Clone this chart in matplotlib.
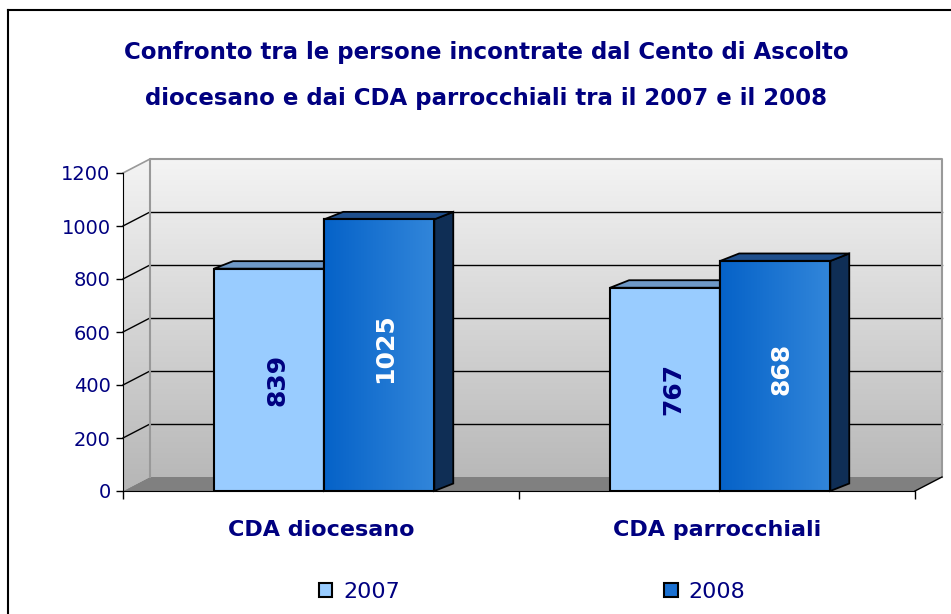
import numpy as np
import matplotlib
matplotlib.use("Agg")
import matplotlib.pyplot as plt
from matplotlib.patches import Polygon, Rectangle, Patch
from matplotlib.lines import Line2D

# data
categories = ["CDA diocesano", "CDA parrocchiali"]
series_names = ["2007", "2008"]
values_2007 = [839, 767]
values_2008 = [1025, 868]
title_lines = ["Confronto tra le persone incontrate dal Cento di Ascolto",
               "diocesano e dai CDA parrocchiali tra il 2007 e il 2008"]
yticks = [0, 200, 400, 600, 800, 1000, 1200]

navy = "#000080"
W, H = 951, 614
fig = plt.figure(figsize=(W / 100, H / 100), dpi=100)
fig.patch.set_facecolor("white")

# front plot area in pixels
left_px, right_px, bot_px, top_px = 123, 915, 491, 173
ax = fig.add_axes([left_px / W, 1 - bot_px / H, (right_px - left_px) / W, (bot_px - top_px) / H])
ax.set_xlim(0, 2)
ax.set_ylim(0, 1200)
ax.patch.set_alpha(0)

xpp = 2 / (right_px - left_px)      # x units per pixel
ypp = 1200 / (bot_px - top_px)      # y units per pixel
dx, dy = 27 * xpp, 14 * ypp         # wall depth
bdx, bdy = 19 * xpp, 7.5 * ypp      # bar depth

# walls with gradient
wall = Polygon([(0, 0), (dx, dy), (2 + dx, dy), (2 + dx, 1200 + dy), (dx, 1200 + dy), (0, 1200)],
               closed=True, facecolor="none", edgecolor="none", clip_on=False)
ax.add_patch(wall)
grad = np.linspace(0, 1, 256).reshape(-1, 1)
cmap = matplotlib.colors.LinearSegmentedColormap.from_list("wall", ["#b6b6b6", "#f4f4f4"])
im = ax.imshow(grad, extent=[0, 2 + dx, 0, 1200 + dy], origin="lower", cmap=cmap,
               aspect="auto", zorder=0)
im.set_clip_box(fig.bbox)
im.set_clip_path(wall)

# floor
ax.add_patch(Polygon([(0, 0), (2, 0), (2 + dx, dy), (dx, dy)], closed=True,
                     facecolor="#808080", edgecolor="none", clip_on=False, zorder=1))

# gridlines
for v in yticks[1:-1]:
    ax.plot([dx, 2 + dx], [v + dy, v + dy], color="black", lw=1, clip_on=False, zorder=1)
    ax.plot([0, dx], [v, v + dy], color="black", lw=1, clip_on=False, zorder=1)
# wall border
ax.plot([dx, dx, 2 + dx, 2 + dx], [dy, 1200 + dy, 1200 + dy, dy], color="#999999", lw=1.5,
        clip_on=False, zorder=1)
ax.plot([0, dx], [1200, 1200 + dy], color="#999999", lw=1.2, clip_on=False, zorder=1)
ax.plot([2, 2 + dx], [0, dy], color="black", lw=1, clip_on=False, zorder=1)

# bars
w = 0.278
shift = 0.008
centers = np.arange(len(categories)) + 0.5 + shift
grad_h = np.linspace(0, 1, 256).reshape(1, -1)
cmap_b = matplotlib.colors.LinearSegmentedColormap.from_list("bar", ["#0562c8", "#3286da"])

def draw_bar(x0, h, front, top, side, z, gradient=False):
    x1 = x0 + w
    ax.add_patch(Polygon([(x1, 0), (x1 + bdx, bdy), (x1 + bdx, h + bdy), (x1, h)], closed=True,
                         facecolor=side, edgecolor="black", lw=1.3, clip_on=False, zorder=z))
    ax.add_patch(Polygon([(x0, h), (x1, h), (x1 + bdx, h + bdy), (x0 + bdx, h + bdy)], closed=True,
                         facecolor=top, edgecolor="black", lw=1.3, clip_on=False, zorder=z))
    bars = ax.bar([x0], [h], width=w, align="edge", color=front, edgecolor="black",
                  linewidth=1.5, zorder=z + 0.1)
    if gradient:
        r = bars[0]
        gi = ax.imshow(grad_h, extent=[x0, x1, 0, h], cmap=cmap_b, aspect="auto",
                       zorder=z + 0.15)
        gi.set_clip_path(r)
        ax.add_patch(Rectangle((x0, 0), w, h, facecolor="none", edgecolor="black",
                               lw=1.5, zorder=z + 0.2))

for i, c in enumerate(centers):
    draw_bar(c - w, values_2007[i], "#99ccff", "#6e98c6", "#4f7aa8", 3)
    draw_bar(c, values_2008[i], "#1a70d0", "#1f4f8c", "#0f2e55", 4, gradient=True)
    ax.text(c - w / 2 + 0.02, values_2007[i] / 2, str(values_2007[i]), rotation=90,
            ha="center", va="center", color=navy, fontsize=18, fontweight="bold", zorder=6)
    ax.text(c + w / 2 + 0.015, values_2008[i] / 2 + 25, str(values_2008[i]), rotation=90,
            ha="center", va="center", color="white", fontsize=18, fontweight="bold", zorder=6)

ax.set_xlim(0, 2)
ax.set_ylim(0, 1200)

# axes styling
for s in ["top", "right"]:
    ax.spines[s].set_visible(False)
ax.spines["left"].set_color("black")
ax.spines["bottom"].set_color("black")
ax.spines["left"].set_zorder(7)
ax.spines["bottom"].set_zorder(7)
ax.set_yticks(yticks)
ax.set_yticklabels([str(t) for t in yticks])
ax.tick_params(axis="y", direction="out", length=5, width=1, colors="black",
               labelcolor=navy, labelsize=14, pad=4)
ax.set_xticks([0.5, 1.5])
ax.set_xticklabels(categories, fontsize=16, fontweight="bold", color=navy)
ax.tick_params(axis="x", length=0, pad=21)
ax.set_xticks([0, 1, 2], minor=True)
ax.tick_params(axis="x", which="minor", direction="out", length=6, width=1, colors="black")

# title
fig.text(486 / W, 1 - 53 / H, title_lines[0], ha="center", va="center", color=navy,
         fontsize=16.5, fontweight="bold")
fig.text(486 / W, 1 - 98 / H, title_lines[1], ha="center", va="center", color=navy,
         fontsize=16.5, fontweight="bold")

# legend
handles = [Patch(facecolor="#99ccff", edgecolor="black", lw=1.5),
           Patch(facecolor="#1a70d0", edgecolor="black", lw=1.5)]
fig.legend(handles, series_names, loc="center", bbox_to_anchor=(532 / W, 1 - 592 / H),
           ncol=2, frameon=False, fontsize=16, labelcolor=navy, handlelength=0.6,
           handleheight=0.6, handletextpad=0.5, columnspacing=11.9)

# outer border
fig.add_artist(Line2D([8 / W, 1], [1 - 10 / H, 1 - 10 / H], color="black", lw=1.5))
fig.add_artist(Line2D([8 / W, 8 / W], [0, 1 - 10 / H], color="black", lw=1.5))

fig.savefig("out.png", dpi=100)
